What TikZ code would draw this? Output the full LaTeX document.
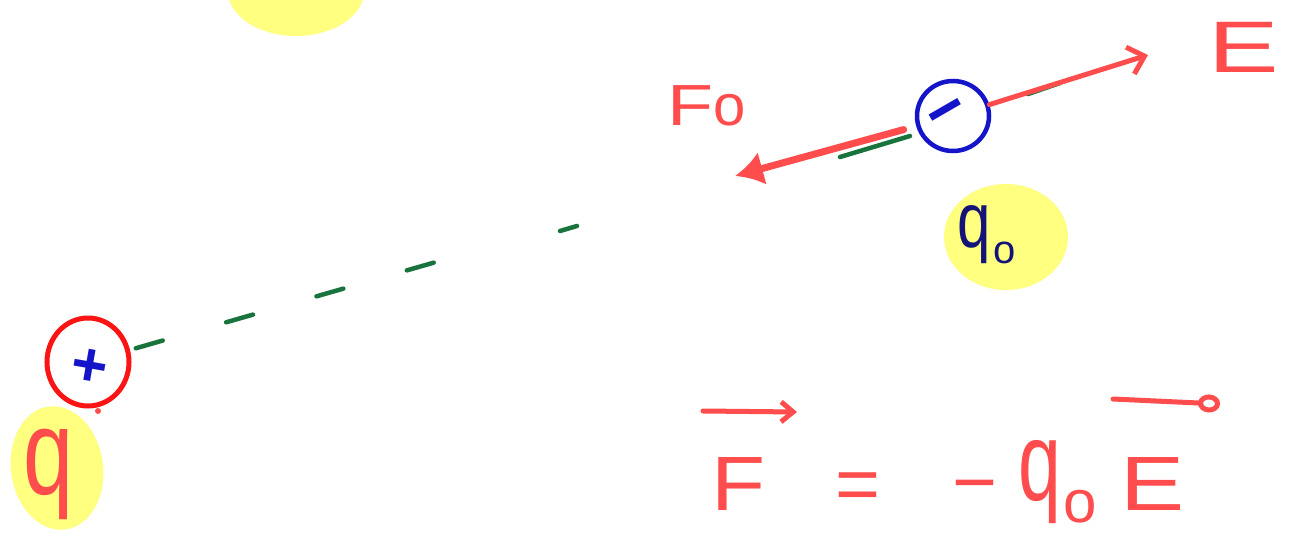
\documentclass[tikz,border=0pt]{standalone}
\usepackage{fontspec}
\setmainfont{Liberation Sans}
\usetikzlibrary{arrows.meta,shapes.geometric}
\definecolor{hred}{RGB}{255,76,76}
\definecolor{pred}{RGB}{250,20,20}
\definecolor{hblue}{RGB}{20,20,200}
\definecolor{hnavy}{RGB}{20,20,120}
\definecolor{hgreen}{RGB}{25,115,60}
\definecolor{hyellow}{RGB}{255,255,128}
\tikzset{
  blob/.style={ellipse, fill=hyellow, inner sep=0pt},
  redtxt/.style={text=hred, inner sep=0pt},
  gline/.style={hgreen, line width=4.5pt, line cap=round},
  rline/.style={hred, line width=5pt, line cap=round, line join=round},
}
\begin{document}
\begin{tikzpicture}[x=1pt,y=-1pt]
\useasboundingbox (0,0) rectangle (1291,533);
\fill[white] (0,0) rectangle (1291,533);

% yellow highlight blobs
\node[blob, minimum width=136pt, minimum height=90pt] (topblob) at (296,-9) {};
\node[blob, minimum width=92pt, minimum height=124pt, rotate=8] (qblob) at (57,468) {};
\node[blob, minimum width=124pt, minimum height=106pt] (q0blob) at (1006,237) {};

% positive charge q
\node[ellipse, draw=pred, line width=5pt, minimum width=82pt, minimum height=88pt, inner sep=0pt] (qplus) at (88,362) {};
\node[text=hblue, inner sep=0pt, font=\fontsize{62}{62}\selectfont\bfseries, rotate=-10] (plus) at (89,368) {+};
\node[circle, fill=hred, inner sep=0pt, minimum size=6pt] (dot) at (98,411) {};
\node[redtxt, anchor=base, font=\fontsize{90}{90}\selectfont] (qlabel) at (49,494) {\scalebox{1}[1.35]{q}};

% negative charge q0
\node[ellipse, draw=hblue, line width=4.5pt, minimum width=72pt, minimum height=70pt, inner sep=0pt] (neg) at (953,116) {};
\node[text=hblue, inner sep=0pt, font=\fontsize{66}{66}\selectfont\bfseries, rotate=30] (minus) at (950,118) {\char"2212};
\node[text=hnavy, inner sep=0pt, anchor=base west, font=\fontsize{60}{60}\selectfont] (q0label) at (957,247)
  {\scalebox{1}[1.3]{q}\kern3pt\raisebox{-16pt}{\fontsize{40}{40}\selectfont o}};

% dashed line of action
\coordinate (dashMid) at (436,262);
\coordinate (dashA) at (560,231);
\coordinate (dashEnd) at (577,226);
\draw[gline, dash pattern=on 28pt off 66pt, dash phase=-6pt] (qplus) -- (dashMid);
\draw[gline] (dashA) -- (dashEnd);
\coordinate (g1a) at (840,157);
\coordinate (g1b) at (910,136);
\coordinate (g2a) at (1028,94);
\coordinate (g2b) at (1060,83);
\draw[gline] (g1a) -- (g1b);
\draw[gline] (g2a) -- (g2b);

% force and field arrows
\coordinate (foTip) at (735,176);
\coordinate (eTip) at (1148,55);
\draw[rline, line width=7pt, shorten <=13pt, -{Latex[length=28pt,width=34pt]}] (neg) -- (foTip);
\draw[rline, -{Straight Barb[length=15pt,width=28pt,line width=5pt]}] (neg) -- (eTip);

\node[redtxt, anchor=base west, font=\fontsize{58}{58}\selectfont] (Fo) at (667,125) {\scalebox{1.3}[1]{F}o};
\node[redtxt, anchor=base west, font=\fontsize{73}{73}\selectfont] (Etop) at (1208,72) {\scalebox{1.45}[1]{E}};

% equation F = - q0 E
\node[redtxt, anchor=base west, font=\fontsize{77}{77}\selectfont] (eqF) at (711,510) {\scalebox{1.15}[1]{F}};
\node[redtxt, anchor=base, font=\fontsize{77}{77}\selectfont] (eqeq) at (858,510) {=};
\node[redtxt, anchor=base, font=\fontsize{77}{77}\selectfont] (eqminus) at (975,508) {\char"2212};
\node[redtxt, anchor=base west, font=\fontsize{77}{77}\selectfont] (eqq) at (1018,500)
  {\scalebox{1}[1.45]{q}\kern2pt\raisebox{-22pt}{\fontsize{60}{60}\selectfont o}};
\node[redtxt, anchor=base west, font=\fontsize{77}{77}\selectfont] (eqE) at (1120,510) {\scalebox{1.25}[1]{E}};

\coordinate (vFa) at (703,411);
\coordinate (vFb) at (797,412);
\coordinate (vEa) at (1113,399);
\coordinate (vEb) at (1220,404);
\draw[rline, -{Straight Barb[length=12pt,width=20pt,line width=5pt]}] (vFa) -- (vFb);
\draw[rline, -{Circle[open,length=22pt,width=18pt,line width=5pt]}] (vEa) -- (vEb);
\end{tikzpicture}
\end{document}
